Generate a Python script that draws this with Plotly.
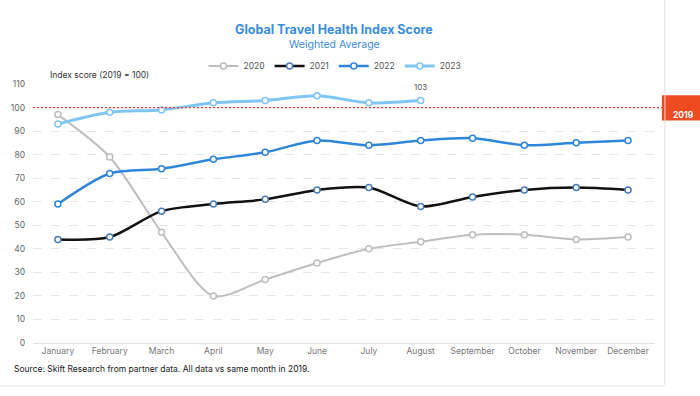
import plotly.graph_objects as go

months = ["January", "February", "March", "April", "May", "June", "July",
          "August", "September", "October", "November", "December"]
y2020 = [97, 79, 47, 20, 27, 34, 40, 43, 46, 46, 44, 45]
y2021 = [44, 45, 56, 59, 61, 65, 66, 58, 62, 65, 66, 65]
y2022 = [59, 72, 74, 78, 81, 86, 84, 86, 87, 84, 85, 86]
y2023 = [93, 98, 99, 102, 103, 105, 102, 103]
yticks = [0, 10, 20, 30, 40, 50, 60, 70, 80, 90, 100, 110]
Y_MAX = 110
BASELINE = 100

series = [
    ("2020", y2020, "#BEBEBE", "#BEBEBE", 2),
    ("2021", y2021, "#111111", "#4A7DB5", 2.5),
    ("2022", y2022, "#2F86D8", "#2F86D8", 2.5),
    ("2023", y2023, "#7FC6F5", "#7FC6F5", 3),
]

fig = go.Figure()
for name, vals, lc, mc, w in series:
    fig.add_trace(go.Scatter(
        x=months[:len(vals)], y=vals, name=name, mode="lines+markers",
        line=dict(color=lc, width=w, shape="spline", smoothing=0.8),
        marker=dict(size=6, color="white", line=dict(color=mc, width=1.5)),
        cliponaxis=False,
    ))

FONT = "Inter, Roboto, sans-serif"
W, H = 700, 396
fig.update_layout(
    width=W, height=H,
    margin=dict(l=33, r=45, t=84, b=52.5, autoexpand=False),
    paper_bgcolor="white", plot_bgcolor="white",
    font=dict(family=FONT, size=8.5, color="#666"),
    hovermode=False,
    showlegend=True,
    legend=dict(orientation="h", xref="container", yref="container",
                x=335 / W, xanchor="center", y=1 - 66 / H, yanchor="middle",
                font=dict(size=8.5, color="#555"), itemwidth=30, tracegroupgap=0,
                bgcolor="rgba(0,0,0,0)"),
    xaxis=dict(range=[-0.48, 11.52], showgrid=False, showline=True, linecolor="#E3E3E3",
               linewidth=1, ticks="", tickfont=dict(size=8.5, color="#777"),
               fixedrange=True, automargin=False),
    yaxis=dict(range=[0, Y_MAX], tickvals=yticks, showgrid=True, gridcolor="#E6E6E6",
               griddash="dash", gridwidth=1, zeroline=False, ticks="", automargin=False,
               tickfont=dict(size=8.5, color="#666"), ticklabelstandoff=7),
)

base_p = BASELINE / Y_MAX  # baseline position in plot fraction
# 2019 reference line
fig.add_shape(type="line", xref="paper", yref="paper", x0=0, x1=1.016, y0=base_p, y1=base_p,
              line=dict(color="#FF3B2B", width=1.3, dash="2px,2px"))
fig.add_shape(type="rect", xref="paper", yref="paper", x0=1.011, x1=1.08,
              y0=base_p - 0.05, y1=base_p + 0.047,
              fillcolor="#F04A23", line=dict(width=0))
fig.add_annotation(xref="paper", yref="paper", x=1.046, y=base_p, text="<b>2019</b>",
                   xanchor="center", showarrow=False,
                   font=dict(size=8.5, color="white", family=FONT))

# card borders
fig.add_shape(type="line", xref="paper", yref="paper", x0=1.016, x1=1.016, y0=-0.162, y1=1.4,
              line=dict(color="#DDDDDD", width=1))
fig.add_shape(type="line", xref="paper", yref="paper", x0=-0.06, x1=1.016, y0=-0.166, y1=-0.166,
              line=dict(color="#E6E6E6", width=1))

# titles
fig.add_annotation(xref="paper", yref="paper", x=0.484, y=1.247, text="<b>Global Travel Health Index Score</b>",
                   showarrow=False, font=dict(size=12.5, color="#3A8DDE", family=FONT))
fig.add_annotation(xref="paper", yref="paper", x=0.484, y=1.186, text="Weighted Average",
                   showarrow=False, font=dict(size=10.5, color="#3A8DDE", family=FONT))
fig.add_annotation(xref="paper", yref="paper", x=0.024, y=1.06, xanchor="left",
                   text="Index score (2019 = 100)", showarrow=False,
                   font=dict(size=8.5, color="#333", family=FONT))
fig.add_annotation(xref="paper", yref="paper", x=-0.034, y=-0.129, xanchor="left",
                   text="Source: Skift Research from partner data. All data vs same month in 2019.",
                   showarrow=False, font=dict(size=8.5, color="#222", family=FONT))
fig.add_annotation(x="August", y=y2023[-1], text="103", showarrow=False, yshift=13,
                   font=dict(size=8, color="#555", family=FONT))

fig.write_html("out.html", config={"displayModeBar": False},
               post_script="document.body.style.margin='0';document.documentElement.style.overflow='hidden';")
